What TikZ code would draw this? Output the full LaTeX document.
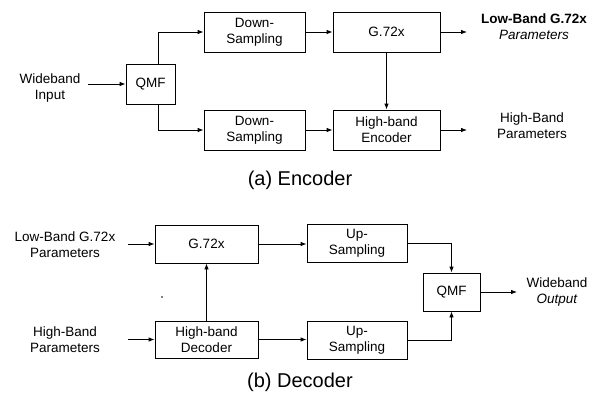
\documentclass[tikz,border=0pt]{standalone}
\usepackage{fontspec}
\setmainfont{Liberation Sans}
\usetikzlibrary{arrows.meta}
\begin{document}
\begin{tikzpicture}[x=1pt,y=-1pt,
  txt/.style={font=\fontsize{13.5}{16}\selectfont, align=center, inner sep=0pt},
  blk/.style={draw, line width=0.8pt, txt},
  captext/.style={font=\fontsize{20}{24}\selectfont, inner sep=0pt},
  arr/.style={line width=0.8pt, -{Latex[length=6pt,width=4.5pt]}},
  ln/.style={line width=0.8pt}]
\useasboundingbox (0,0) rectangle (597,396);
% ---------- Encoder ----------
\node[blk, minimum width=49pt, minimum height=40pt] (qmfA) at (150.5,84) {QMF};
\node[blk, minimum width=101pt, minimum height=40pt] (dsA1) at (254.5,32) {Down-\\Sampling};
\node[blk, minimum width=101pt, minimum height=40pt] (dsA2) at (254.5,130) {Down-\\Sampling};
\node[blk, minimum width=107pt, minimum height=40pt] (g72A) at (386.5,32) {G.72x};
\node[blk, minimum width=107pt, minimum height=40pt] (hbe) at (386.5,130) {High-band\\Encoder};
\node[txt] (winA) at (50,88) {Wideband\\Input};
\node[txt] (lowA) at (534,27) {\textbf{Low-Band G.72x}\\\textit{Parameters}};
\node[txt] (highA) at (532,126) {High-Band\\Parameters};
\coordinate (winS) at (88,84);
\coordinate (lowE) at (467,32);
\coordinate (highE) at (467,130);
\coordinate (qt) at (158,64);
\coordinate (qb) at (158,104);
\draw[arr] (winS) -- (qmfA.west |- winS);
\draw[arr] (qt) |- (dsA1.west);
\draw[arr] (qb) |- (dsA2.west);
\draw[arr] (dsA1.east) -- (g72A.west);
\draw[arr] (dsA2.east) -- (hbe.west);
\draw[arr] (g72A.south) -- (hbe.north);
\draw[arr] (g72A.east) -- (lowE);
\draw[arr] (hbe.east) -- (highE);
\node[captext] (capA) at (300,180) {(a) Encoder};
% ---------- Decoder ----------
\node[blk, minimum width=103pt, minimum height=38pt] (g72B) at (206.5,244) {G.72x};
\node[blk, minimum width=103pt, minimum height=37pt] (hbd) at (206.5,339.5) {High-band\\Decoder};
\node[blk, minimum width=100pt, minimum height=38pt] (usB1) at (357,243) {Up-\\Sampling};
\node[blk, minimum width=100pt, minimum height=38pt] (usB2) at (357,340) {Up-\\Sampling};
\node[blk, minimum width=57pt, minimum height=38pt] (qmfB) at (451.5,292) {QMF};
\node[txt] (lowB) at (65,245) {Low-Band G.72x\\Parameters};
\node[txt] (highB) at (65,340) {High-Band\\Parameters};
\node[txt] (woutB) at (557,292) {Wideband\\\textit{Output}};
\coordinate (lowBs) at (128,244);
\coordinate (highBs) at (128,339.5);
\coordinate (outE) at (517,292);
\draw[arr] (lowBs) -- (g72B.west);
\draw[arr] (highBs) -- (hbd.west);
\draw[arr] (hbd.north) -- (g72B.south);
\draw[arr] (g72B.east) -- (usB1.west |- g72B.east);
\draw[arr] (hbd.east) -- (usB2.west |- hbd.east);
\draw[arr] (usB1.east) -| (qmfB.north);
\draw[arr] (usB2.east) -| (qmfB.south);
\draw[arr] (qmfB.east) -- (outE);
\fill (162,297) circle (0.9pt);
\node[captext] (capB) at (300,382) {(b) Decoder};
\end{tikzpicture}
\end{document}
